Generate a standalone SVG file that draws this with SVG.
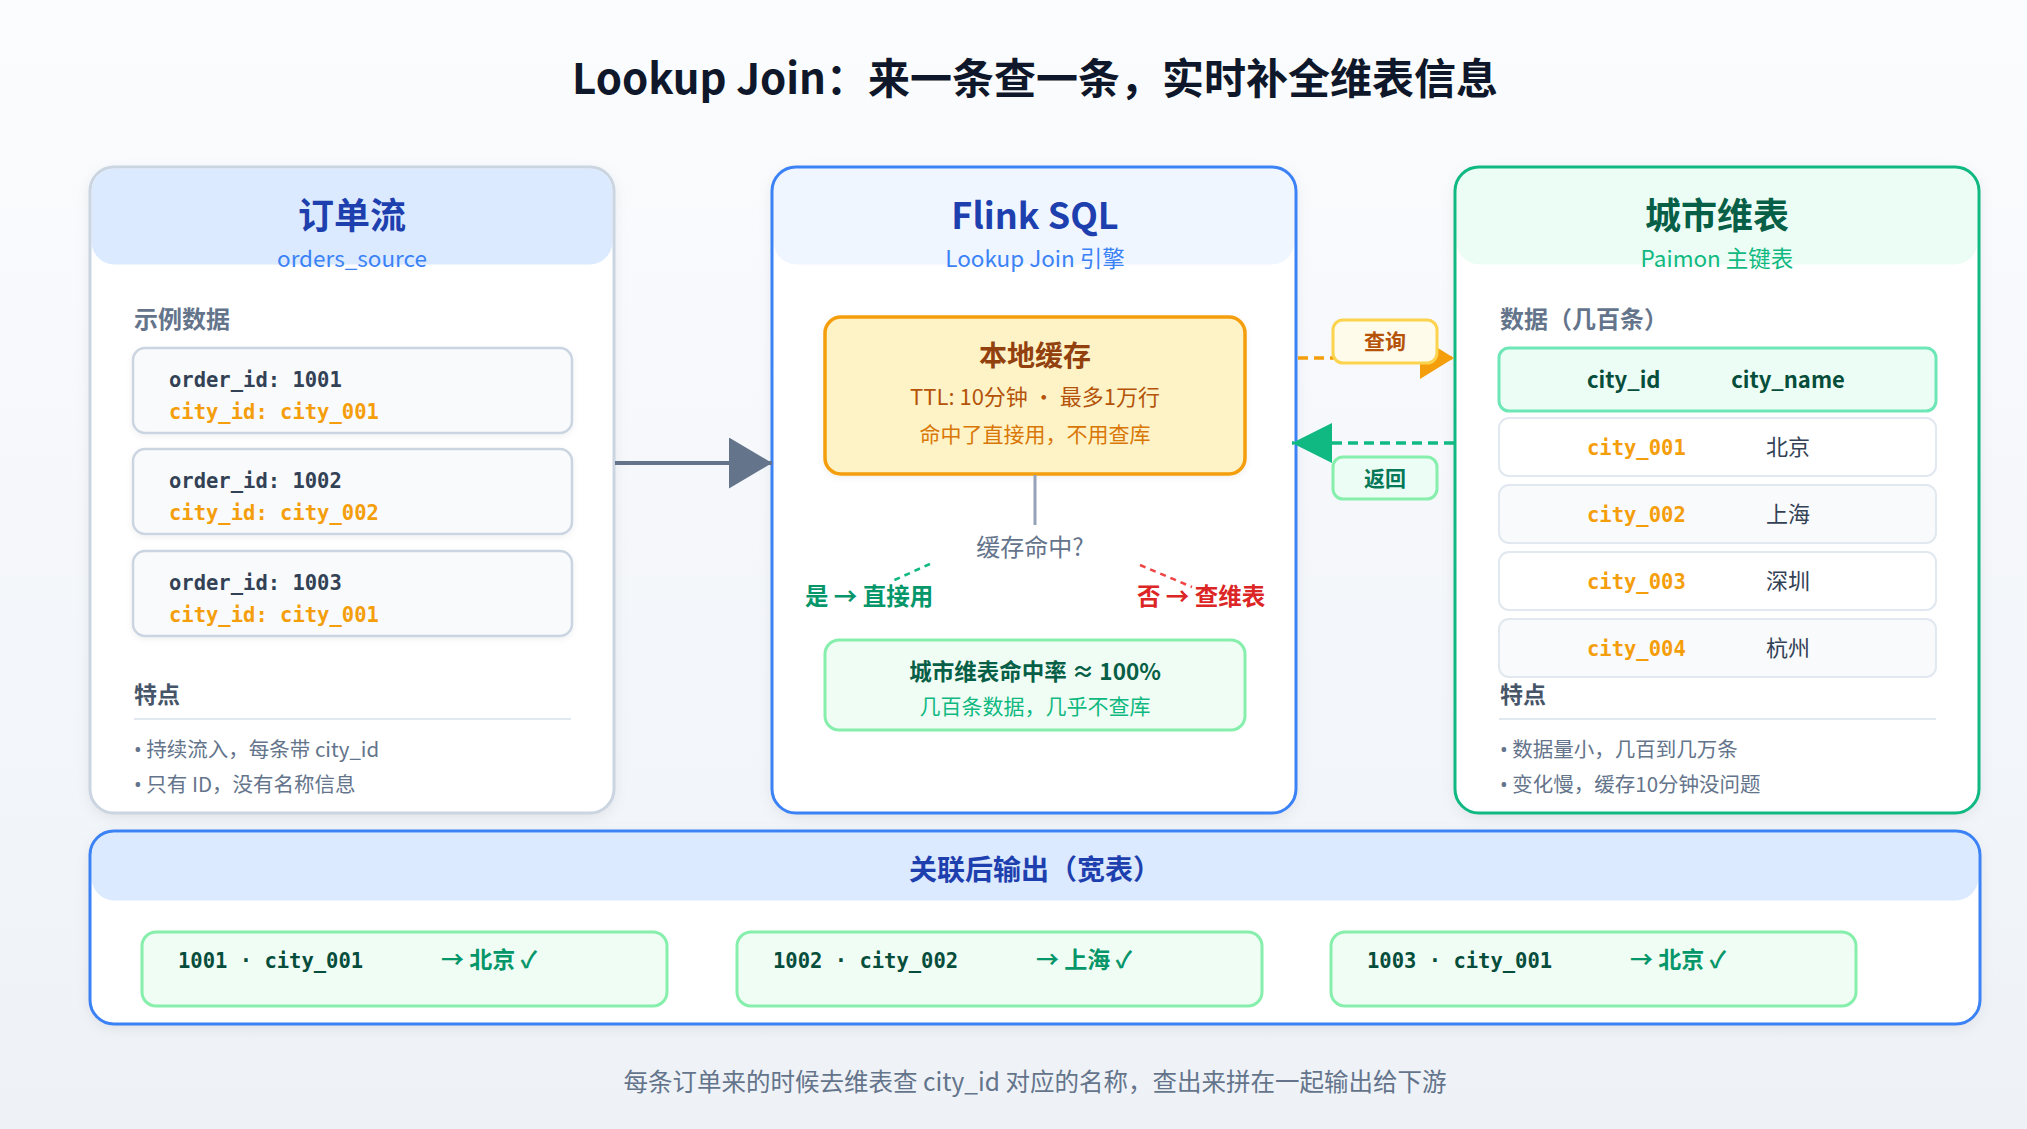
<svg xmlns="http://www.w3.org/2000/svg" width="2027" height="1129" viewBox="0 0 2027 1129">
<style>
text{font-family:"Noto Sans CJK SC","Noto Sans",sans-serif;}
.mono{font-family:"DejaVu Sans Mono","Liberation Mono",monospace;font-weight:bold;font-size:20.5px;}
.c{text-anchor:middle;}
.b{font-weight:bold;}
.ptitle{font-size:36px;font-weight:bold;text-anchor:middle;}
.psub{font-size:22.5px;text-anchor:middle;}
.sec{font-size:24px;font-weight:bold;fill:#64748b;}
.feat{font-size:23px;font-weight:bold;fill:#475569;}
.bul{font-size:20.5px;fill:#64748b;}
.dot{font-family:"Noto Sans","DejaVu Sans",sans-serif;}
.card{fill:#f8fafc;stroke:#cbd5e1;stroke-width:2.5;}
.oid{fill:#334155;}
.cid{fill:#f59e0b;}
.row{stroke:#e2e8f0;stroke-width:2;}
.city{font-size:22px;fill:#334155;text-anchor:middle;}
.out{fill:#f0fdf4;stroke:#86efac;stroke-width:3;}
.outid{fill:#064e3b;}
.outname{font-size:23px;font-weight:bold;fill:#059669;}
.div{stroke:#e2e8f0;stroke-width:2;}
</style>
<defs>
<linearGradient id="bg" x1="0" y1="0" x2="0" y2="1">
<stop offset="0" stop-color="#fbfcfe"/>
<stop offset="1" stop-color="#eef2f7"/>
</linearGradient>
<filter id="sh" x="-10%" y="-10%" width="120%" height="125%">
<feDropShadow dx="0" dy="4" stdDeviation="7" flood-color="#0f172a" flood-opacity="0.08"/>
</filter>
<filter id="sh2" x="-5%" y="-10%" width="110%" height="130%">
<feDropShadow dx="0" dy="2" stdDeviation="3" flood-color="#0f172a" flood-opacity="0.06"/>
</filter>
<marker id="arGray" markerUnits="userSpaceOnUse" markerWidth="44" markerHeight="52" refX="43" refY="25.5" orient="auto">
<path d="M0,0 L43,25.5 L0,51 z" fill="#64748b"/>
</marker>
<marker id="arOrange" markerUnits="userSpaceOnUse" markerWidth="36" markerHeight="44" refX="34" refY="21" orient="auto">
<path d="M0,0 L34,21 L0,42 z" fill="#f59e0b"/>
</marker>
<marker id="arGreen" markerUnits="userSpaceOnUse" markerWidth="42" markerHeight="42" refX="40" refY="20" orient="auto">
<path d="M0,0 L40,20 L0,40 z" fill="#10b981"/>
</marker>
</defs>
<rect x="0" y="0" width="2027" height="1129" fill="url(#bg)"/>
<text x="1035" y="94" class="c b" font-size="42" fill="#0f172a">Lookup Join：来一条查一条，实时补全维表信息</text>

<g id="orders">
<rect x="90" y="167" width="524" height="646" rx="24" fill="#ffffff" filter="url(#sh)"/>
<rect x="91.5" y="168.5" width="521" height="96" rx="23" fill="#dbeafe"/>
<rect x="90" y="167" width="524" height="646" rx="24" fill="none" stroke="#cbd5e1" stroke-width="3"/>
<text x="352" y="229" class="ptitle" fill="#1e40af">订单流</text>
<text x="352" y="267" class="psub" fill="#3b82f6">orders_source</text>
<text x="134" y="328" class="sec">示例数据</text>
<rect x="133" y="348" width="439" height="85" rx="12" class="card" filter="url(#sh2)"/>
<text x="169" y="387" class="mono oid">order_id: 1001</text>
<text x="169" y="419" class="mono cid">city_id: city_001</text>
<rect x="133" y="449" width="439" height="85" rx="12" class="card" filter="url(#sh2)"/>
<text x="169" y="488" class="mono oid">order_id: 1002</text>
<text x="169" y="520" class="mono cid">city_id: city_002</text>
<rect x="133" y="551" width="439" height="85" rx="12" class="card" filter="url(#sh2)"/>
<text x="169" y="590" class="mono oid">order_id: 1003</text>
<text x="169" y="622" class="mono cid">city_id: city_001</text>
<text x="134" y="703" class="feat">特点</text>
<line x1="134" y1="719" x2="571" y2="719" class="div"/>
<text x="134" y="757" class="bul"><tspan class="dot">•</tspan> 持续流入，每条带 city_id</text>
<text x="134" y="792" class="bul"><tspan class="dot">•</tspan> 只有 ID，没有名称信息</text>
</g>

<g id="flink">
<rect x="772" y="167" width="524" height="646" rx="24" fill="#ffffff" filter="url(#sh)"/>
<rect x="773.5" y="168.5" width="521" height="96" rx="23" fill="#eff6ff"/>
<rect x="772" y="167" width="524" height="646" rx="24" fill="none" stroke="#3b82f6" stroke-width="3"/>
<text x="1035" y="229" class="ptitle" fill="#1e40af">Flink SQL</text>
<text x="1035" y="267" class="psub" fill="#3b82f6">Lookup Join 引擎</text>
<g id="cache">
<rect x="825" y="317" width="420" height="157" rx="16" fill="#fef3c7" stroke="#f59e0b" stroke-width="3.5" filter="url(#sh2)"/>
<text x="1035" y="366" class="c b" font-size="28" fill="#92400e">本地缓存</text>
<text x="1035" y="405" class="c" font-size="22" fill="#b45309">TTL: 10分钟 · 最多1万行</text>
<text x="1035" y="442" class="c" font-size="21" fill="#d97706">命中了直接用，不用查库</text>
</g>
<line x1="1035" y1="475" x2="1035" y2="525" stroke="#94a3b8" stroke-width="3"/>
<text x="1030" y="556" class="c" font-size="24" fill="#64748b">缓存命中?</text>
<line x1="930" y1="564" x2="890" y2="582" stroke="#10b981" stroke-width="2.5" stroke-dasharray="6 5"/>
<line x1="1140" y1="565" x2="1192" y2="587" stroke="#ef4444" stroke-width="2.5" stroke-dasharray="6 5"/>
<text x="805" y="605" class="b" font-size="23.5" fill="#059669">是 → 直接用</text>
<text x="1137" y="605" class="b" font-size="23.5" fill="#dc2626">否 → 查维表</text>
<g id="hitrate">
<rect x="825" y="640" width="420" height="90" rx="14" fill="#f0fdf4" stroke="#86efac" stroke-width="3"/>
<text x="1035" y="680" class="c b" font-size="22.5" fill="#065f46">城市维表命中率 ≈ 100%</text>
<text x="1035" y="714" class="c" font-size="21" fill="#10b981">几百条数据，几乎不查库</text>
</g>
</g>

<g id="cities">
<rect x="1455" y="167" width="524" height="646" rx="24" fill="#ffffff" filter="url(#sh)"/>
<rect x="1456.5" y="168.5" width="521" height="96" rx="23" fill="#ecfdf5"/>
<rect x="1455" y="167" width="524" height="646" rx="24" fill="none" stroke="#10b981" stroke-width="3"/>
<text x="1717" y="229" class="ptitle" fill="#065f46">城市维表</text>
<text x="1717" y="267" class="psub" fill="#10b981">Paimon 主键表</text>
<text x="1500" y="328" class="sec">数据（几百条）</text>
<rect x="1499" y="348" width="437" height="63" rx="10" fill="#ecfdf5" stroke="#6ee7b7" stroke-width="3"/>
<text x="1587" y="388" class="b" font-size="22" fill="#064e3b">city_id</text>
<text x="1788" y="388" class="c b" font-size="22" fill="#064e3b">city_name</text>
<rect x="1499" y="418" width="437" height="58" rx="10" fill="#ffffff" class="row"/>
<text x="1587" y="455" class="mono cid">city_001</text>
<text x="1788" y="455" class="city">北京</text>
<rect x="1499" y="485" width="437" height="58" rx="10" fill="#f8fafc" class="row"/>
<text x="1587" y="522" class="mono cid">city_002</text>
<text x="1788" y="522" class="city">上海</text>
<rect x="1499" y="552" width="437" height="58" rx="10" fill="#ffffff" class="row"/>
<text x="1587" y="589" class="mono cid">city_003</text>
<text x="1788" y="589" class="city">深圳</text>
<rect x="1499" y="619" width="437" height="58" rx="10" fill="#f8fafc" class="row"/>
<text x="1587" y="656" class="mono cid">city_004</text>
<text x="1788" y="656" class="city">杭州</text>
<text x="1500" y="703" class="feat">特点</text>
<line x1="1499" y1="719" x2="1936" y2="719" class="div"/>
<text x="1500" y="757" class="bul"><tspan class="dot">•</tspan> 数据量小，几百到几万条</text>
<text x="1500" y="792" class="bul"><tspan class="dot">•</tspan> 变化慢，缓存10分钟没问题</text>
</g>

<g id="output">
<rect x="90" y="831" width="1890" height="193" rx="24" fill="#ffffff" filter="url(#sh)"/>
<rect x="91.5" y="832.5" width="1887" height="68" rx="23" fill="#dbeafe"/>
<rect x="90" y="831" width="1890" height="193" rx="24" fill="none" stroke="#3b82f6" stroke-width="3"/>
<text x="1035" y="880" class="c b" font-size="28" fill="#1e40af">关联后输出（宽表）</text>
<rect x="142" y="932" width="525" height="74" rx="14" class="out"/>
<text x="178" y="968" class="mono outid">1001 · city_001</text>
<text x="441" y="968" class="outname">→ 北京 ✓</text>
<rect x="737" y="932" width="525" height="74" rx="14" class="out"/>
<text x="773" y="968" class="mono outid">1002 · city_002</text>
<text x="1036" y="968" class="outname">→ 上海 ✓</text>
<rect x="1331" y="932" width="525" height="74" rx="14" class="out"/>
<text x="1367" y="968" class="mono outid">1003 · city_001</text>
<text x="1630" y="968" class="outname">→ 北京 ✓</text>
</g>

<g id="connectors">
<line x1="615" y1="463" x2="772" y2="463" stroke="#64748b" stroke-width="4" marker-end="url(#arGray)"/>
<line x1="1298" y1="358" x2="1454" y2="358" stroke="#f59e0b" stroke-width="3.3" stroke-dasharray="10 6" marker-end="url(#arOrange)"/>
<line x1="1454" y1="443" x2="1292" y2="443" stroke="#10b981" stroke-width="3.3" stroke-dasharray="10 6" marker-end="url(#arGreen)"/>
<g id="lbl-query">
<rect x="1333" y="320" width="104" height="43" rx="10" fill="#fffbeb" stroke="#fcd34d" stroke-width="3"/>
<text x="1385" y="349" class="c b" font-size="21" fill="#b45309">查询</text>
</g>
<g id="lbl-return">
<rect x="1333" y="457" width="104" height="42" rx="10" fill="#ecfdf5" stroke="#86efac" stroke-width="3"/>
<text x="1385" y="486" class="c b" font-size="21" fill="#047857">返回</text>
</g>
</g>

<text x="1035" y="1091" class="c" font-size="24.5" fill="#64748b">每条订单来的时候去维表查 city_id 对应的名称，查出来拼在一起输出给下游</text>
</svg>
